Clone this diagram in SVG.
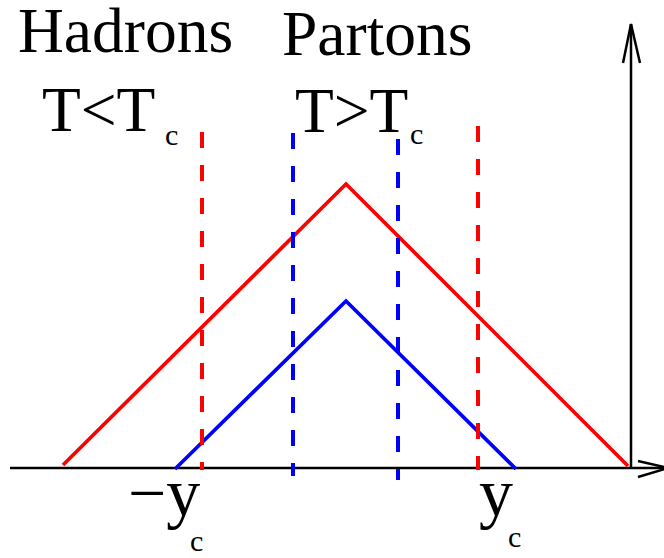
<svg xmlns="http://www.w3.org/2000/svg" width="664" height="558" viewBox="0 0 664 558">
<style>
.t{font-family:"Liberation Serif","Times New Roman",serif;fill:#000}
.big{font-size:63.5px}
.sub{font-size:30px}
.ax{stroke:#000;stroke-width:2.5;fill:none}
.red{stroke:#ff0000;stroke-width:3.7;fill:none}
.blue{stroke:#0000ff;stroke-width:3.7;fill:none}
.dash{stroke-width:4;stroke-dasharray:16 17}
</style>
<rect width="664" height="558" fill="#fff"/>
<g id="axes">
<line class="ax" x1="10" y1="468" x2="664" y2="468"/>
<polyline class="ax" points="638,461 668,468 638,477"/>
<line class="ax" x1="631" y1="468" x2="631" y2="24"/>
<polyline class="ax" points="623,63 631,24 640,63"/>
</g>
<g id="connectors">
<polyline class="red" points="63,465 346,184 628,466"/>
<polyline class="blue" points="175,469 346,301 516,469"/>
<line class="red dash" x1="202" y1="132" x2="202" y2="470"/>
<line class="red dash" x1="478" y1="126" x2="478" y2="470"/>
<line class="blue dash" x1="293" y1="133" x2="293" y2="476"/>
<line class="blue dash" x1="398" y1="139" x2="398" y2="480"/>
</g>
<g id="hadrons">
<text class="t big" x="18" y="52">Hadrons</text>
<text class="t big" x="42" y="131">T&lt;T</text>
<text class="t sub" x="165" y="145">c</text>
</g>
<g id="partons">
<text class="t big" x="282" y="55">Partons</text>
<text class="t big" x="295" y="132">T&gt;T</text>
<text class="t sub" x="410" y="144">c</text>
</g>
<g id="ylabels">
<text class="t" font-size="68" x="128" y="516">−y</text>
<text class="t sub" x="190" y="551">c</text>
<text class="t" font-size="68" x="479" y="516">y</text>
<text class="t sub" x="508" y="547">c</text>
</g>
</svg>
